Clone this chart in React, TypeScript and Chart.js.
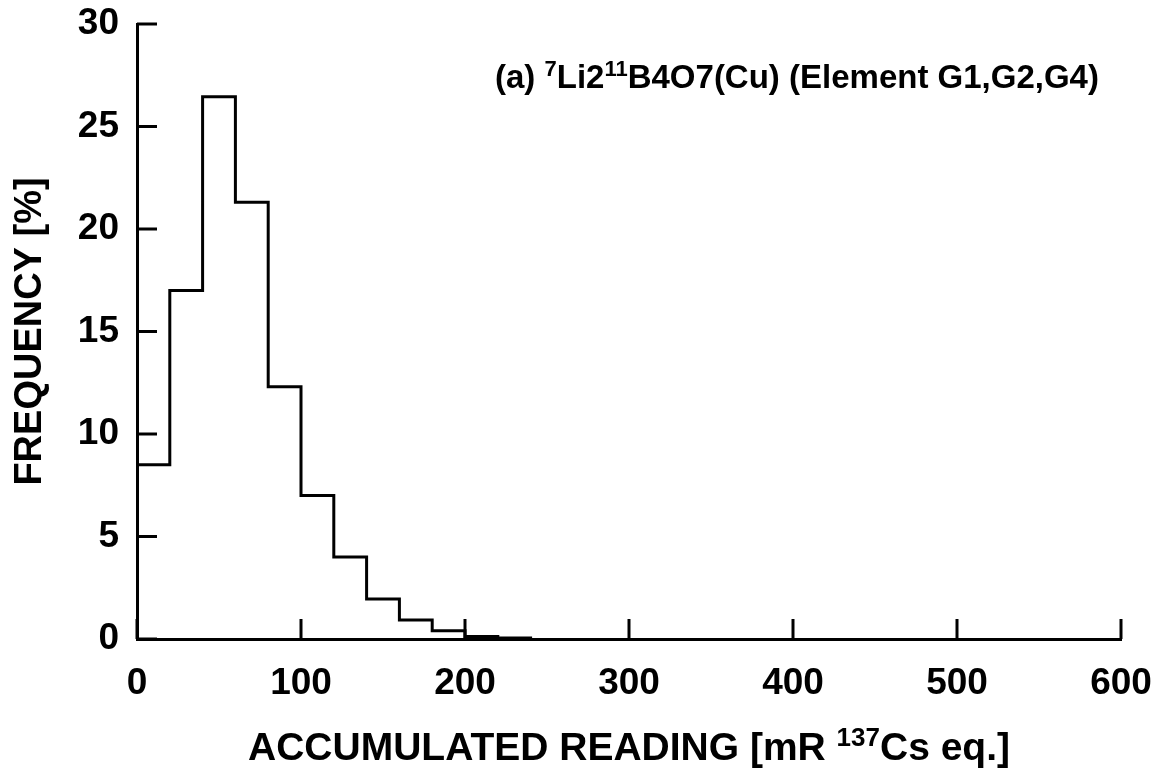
import React, { useEffect, useRef } from "react";
import { Chart, registerables } from "chart.js";

Chart.register(...registerables);

// ---- data ----
const binStarts = [0, 20, 40, 60, 80, 100, 120, 140, 160, 180, 200, 220, 240];
const frequencies = [8.5, 17.0, 26.45, 21.3, 12.3, 7.0, 4.0, 1.95, 0.93, 0.4, 0.12, 0.05, 0];
const xTickValues = [0, 100, 200, 300, 400, 500, 600];
const yTickValues = [0, 5, 10, 15, 20, 25, 30];
const yTitle = "FREQUENCY [%]";
const xTitleParts = [
  { t: "ACCUMULATED READING [mR ", sup: false },
  { t: "137", sup: true },
  { t: "Cs eq.]", sup: false },
];
const annotationParts = [
  { t: "(a) ", sup: false },
  { t: "7", sup: true },
  { t: "Li2", sup: false },
  { t: "11", sup: true },
  { t: "B4O7(Cu) (Element G1,G2,G4)", sup: false },
];

const FONT = '"Liberation Sans", Arial, Helvetica, sans-serif';

type Part = { t: string; sup: boolean };

function drawRich(
  ctx: CanvasRenderingContext2D,
  parts: Part[],
  x: number,
  baseline: number,
  size: number,
  supSize: number,
  supRaise: number,
  align: "left" | "center"
) {
  const mainFont = `bold ${size}px ${FONT}`;
  const supFont = `bold ${supSize}px ${FONT}`;
  let total = 0;
  const widths = parts.map((p) => {
    ctx.font = p.sup ? supFont : mainFont;
    const w = ctx.measureText(p.t).width;
    total += w;
    return w;
  });
  let cx = align === "center" ? x - total / 2 : x;
  ctx.textAlign = "left";
  ctx.textBaseline = "alphabetic";
  ctx.fillStyle = "#000";
  parts.forEach((p, i) => {
    ctx.font = p.sup ? supFont : mainFont;
    ctx.fillText(p.t, cx, p.sup ? baseline - supRaise : baseline);
    cx += widths[i];
  });
}

const decorPlugin = {
  id: "decor",
  afterDraw(chart: any) {
    const ctx: CanvasRenderingContext2D = chart.ctx;
    const xs = chart.scales.x;
    const ys = chart.scales.y;
    const area = chart.chartArea;
    ctx.save();
    ctx.strokeStyle = "#000";
    ctx.lineWidth = 3;
    ctx.lineCap = "butt";
    // inward tick marks
    xTickValues.forEach((v) => {
      const px = xs.getPixelForValue(v);
      ctx.beginPath();
      ctx.moveTo(px, area.bottom);
      ctx.lineTo(px, area.bottom - 20);
      ctx.stroke();
    });
    yTickValues.forEach((v) => {
      const py = ys.getPixelForValue(v);
      ctx.beginPath();
      ctx.moveTo(area.left, py);
      ctx.lineTo(area.left + 20, py);
      ctx.stroke();
    });
    // annotation text
    drawRich(ctx, annotationParts, 495, 88, 33, 22, 12, "left");
    // x axis title, centred on the plot area
    drawRich(ctx, xTitleParts, (area.left + area.right) / 2, 760, 39, 26, 14, "center");
    ctx.restore();
  },
};

export default function App() {
  const ref = useRef<HTMLCanvasElement | null>(null);

  useEffect(() => {
    if (!ref.current) return;
    document.body.style.margin = "0";
    const points = binStarts.map((x, i) => ({ x, y: frequencies[i] }));
    const chart = new Chart(ref.current, {
      type: "line",
      data: {
        datasets: [
          {
            data: points,
            stepped: "before",
            borderColor: "#000",
            borderWidth: 3,
            pointRadius: 0,
            fill: false,
          } as any,
        ],
      },
      options: {
        responsive: false,
        animation: false,
        events: [],
        layout: { padding: { top: 24, right: 40, left: 0, bottom: 0 } },
        plugins: {
          legend: { display: false },
          tooltip: { enabled: false },
        },
        scales: {
          x: {
            type: "linear",
            min: 0,
            max: 600,
            afterBuildTicks: (scale: any) => {
              scale.ticks = xTickValues.map((v) => ({ value: v }));
            },
            afterFit: (scale: any) => {
              scale.height = 133;
              scale.paddingLeft = 0;
              scale.paddingRight = 0;
            },
            grid: { display: false },
            border: { display: true, color: "#000", width: 3 },
            ticks: {
              color: "#000",
              font: { family: FONT, size: 37, weight: "bold" },
              padding: 15,
              maxRotation: 0,
              autoSkip: false,
            },
            title: { display: false },
          },
          y: {
            type: "linear",
            min: 0,
            max: 30,
            afterBuildTicks: (scale: any) => {
              scale.ticks = yTickValues.map((v) => ({ value: v }));
            },
            afterFit: (scale: any) => {
              scale.width = 137;
              scale.paddingTop = 0;
              scale.paddingBottom = 0;
            },
            grid: { display: false },
            border: { display: true, color: "#000", width: 3 },
            ticks: {
              color: "#000",
              font: { family: FONT, size: 37, weight: "bold" },
              padding: 10,
              autoSkip: false,
            },
            title: {
              display: true,
              text: yTitle,
              color: "#000",
              font: { family: FONT, size: 38, weight: "bold" },
              padding: { top: 8, bottom: 0 },
            },
          },
        },
      } as any,
      plugins: [decorPlugin],
    });
    return () => chart.destroy();
  }, []);

  return (
    <div style={{ position: "absolute", left: 0, top: 0, width: 1161, height: 772, background: "#fff" }}>
      <canvas ref={ref} width={1161} height={772} style={{ display: "block" }} />
    </div>
  );
}
